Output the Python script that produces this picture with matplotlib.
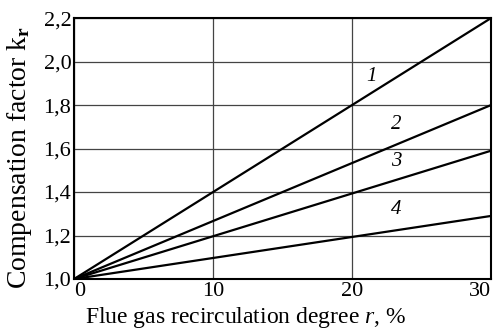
import matplotlib
matplotlib.use("Agg")
import matplotlib.pyplot as plt
import numpy as np

r = [0, 30]
k1 = [1.0, 2.2]
k2 = [1.0, 1.8]
k3 = [1.0, 1.59]
k4 = [1.0, 1.29]
curve_labels = ["1", "2", "3", "4"]
label_x = [21.4, 23.2, 23.2, 23.2]
label_y = [1.93, 1.71, 1.54, 1.32]
yticks = [1.0, 1.2, 1.4, 1.6, 1.8, 2.0, 2.2]
xticks = [0, 10, 20, 30]

plt.rcParams['font.family'] = ['Liberation Serif', 'DejaVu Serif']
plt.rcParams['mathtext.fontset'] = 'custom'
plt.rcParams['mathtext.rm'] = 'Liberation Serif'
plt.rcParams['mathtext.it'] = 'Liberation Serif:italic'
plt.rcParams['mathtext.bf'] = 'Liberation Serif:bold'

fig = plt.figure(figsize=(4.94, 3.29), dpi=100)
ax = fig.add_axes([0.150, 0.152, 0.844, 0.793])

for y in [k1, k2, k3, k4]:
    ax.plot(r, y, color='black', lw=1.6, solid_capstyle='butt')
for t, x, y in zip(curve_labels, label_x, label_y):
    ax.text(x, y, t, fontsize=15, style='italic', ha='center', va='center')

ax.set_xlim(0, 30)
ax.set_ylim(1.0, 2.2)
ax.set_xticks(xticks)
ax.set_yticks(yticks)
ax.set_xticklabels([str(v) for v in xticks], fontsize=16)
ax.set_yticklabels([f"{v:.1f}".replace('.', ',') for v in yticks], fontsize=16)
ax.tick_params(length=0, pad=2)
xl = ax.get_xticklabels()
xl[0].set_ha('left')
xl[-1].set_ha('right')
ax.grid(True, color='#444444', lw=0.9)
for s in ax.spines.values():
    s.set_linewidth(1.5)

fig.text(0.04, 0.523, r"Compensation factor k$_{\mathbf{r}}$", rotation=90,
         fontsize=20, ha='center', va='center')
fig.text(0.498, 0.035, r"Flue gas recirculation degree $\mathit{r}$, %",
         fontsize=17, ha='center', va='center')

fig.savefig("out.png", dpi=100)
